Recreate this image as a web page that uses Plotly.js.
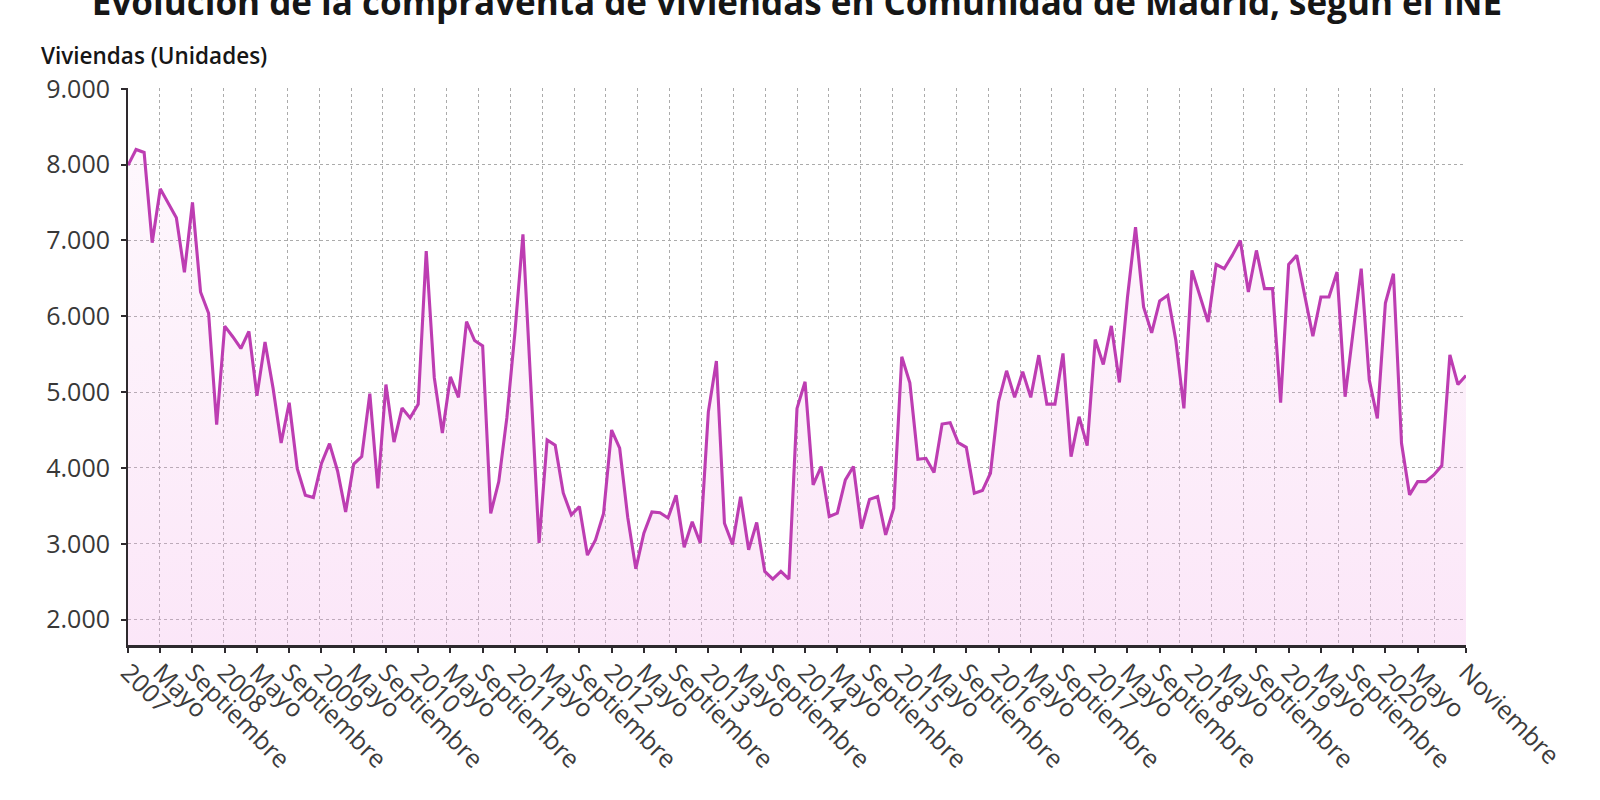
<!DOCTYPE html>
<html>
<head>
<meta charset="utf-8">
<script src="https://cdn.plot.ly/plotly-3.0.1.min.js"></script>
<style>
html,body{margin:0;padding:0;background:#ffffff;}
#chart{width:1600px;height:800px;}
</style>
</head>
<body>
<div id="chart"></div>
<script>
// ---- Data (compraventa de viviendas, Comunidad de Madrid, INE) ----
const years = [2007,2008,2009,2010,2011,2012,2013,2014,2015,2016,2017,2018,2019,2020];
const monthNames = ['Enero','Febrero','Marzo','Abril','Mayo','Junio','Julio','Agosto','Septiembre','Octubre','Noviembre','Diciembre'];

const v2007 = [7990,8200,8160,6970,7680,7490,7300,6580,7500,6320,6040,4570];
const v2008 = [5870,5730,5575,5800,4950,5660,5050,4330,4860,3990,3640,3610];
const v2009 = [4060,4320,3960,3420,4050,4150,4980,3730,5100,4340,4790,4660];
const v2010 = [4840,6860,5190,4460,5200,4930,5930,5680,5610,3400,3820,4660];
const v2011 = [5780,7080,5050,3010,4370,4300,3670,3380,3490,2850,3050,3400];
const v2012 = [4500,4260,3350,2670,3140,3420,3410,3340,3640,2955,3290,3010];
const v2013 = [4740,5410,3270,2990,3620,2920,3280,2636,2535,2636,2535,4785];
const v2014 = [5136,3776,4018,3360,3404,3842,4018,3200,3585,3623,3118,3469];
const v2015 = [5465,5123,4114,4127,3939,4579,4596,4333,4272,3667,3702,3930];
const v2016 = [4873,5281,4930,5268,4930,5487,4842,4842,5509,4149,4675,4294];
const v2017 = [5693,5364,5873,5127,6250,7175,6123,5781,6202,6276,5684,4785];
const v2018 = [6605,6254,5925,6684,6627,6803,7000,6320,6868,6364,6364,4860];
const v2019 = [6684,6803,6276,5737,6254,6254,6583,4939,5800,6627,5158,4654];
const v2020 = [6175,6561,4325,3645,3820,3820,3908,4031,5490,5100,5220];

const yearValues = [v2007,v2008,v2009,v2010,v2011,v2012,v2013,v2014,v2015,v2016,v2017,v2018,v2019,v2020];

const yTickVals = [2000,3000,4000,5000,6000,7000,8000,9000];
const yTickText = ['2.000','3.000','4.000','5.000','6.000','7.000','8.000','9.000'];

// ---- Build categories ----
const categories = [];
const values = [];
years.forEach((yr, i) => {
  yearValues[i].forEach((v, m) => {
    categories.push(monthNames[m] + ' ' + yr);
    values.push(v);
  });
});

// x tick labels: year at January, "Mayo", "Septiembre", last month name at the end
const xTickVals = [];
const xTickText = [];
const lastIdx = categories.length - 1;
categories.forEach((c, i) => {
  if (i % 4 === 0 && lastIdx - i > 2) {
    const parts = c.split(' ');
    xTickVals.push(c);
    xTickText.push(parts[0] === 'Enero' ? parts[1] : parts[0]);
  }
});
xTickVals.push(categories[lastIdx]);
xTickText.push(categories[lastIdx].split(' ')[0]);

const FONT = 'Open Sans, Noto Sans, sans-serif';
const LINE = '#bd3db2';

const traces = [
  {
    type: 'scatter',
    mode: 'lines',
    x: categories,
    y: values,
    line: {color: LINE, width: 3.1},
    fill: 'tozeroy',
    fillcolor: 'rgba(240,160,228,0.18)',
    fillgradient: {
      type: 'vertical',
      start: 1665,
      stop: 8300,
      colorscale: [[0, 'rgba(242,168,230,0.28)'], [1, 'rgba(242,168,230,0.08)']]
    },
    hoverinfo: 'x+y',
    showlegend: false
  },
  {
    // empty trace so the grid axis (x2) is created
    type: 'scatter', mode: 'none', x: [], y: [], xaxis: 'x2', yaxis: 'y',
    showlegend: false, hoverinfo: 'skip'
  }
];

const layout = {
  width: 1600,
  height: 800,
  paper_bgcolor: '#ffffff',
  plot_bgcolor: '#ffffff',
  margin: {l: 128, r: 134, t: 88, b: 155},
  font: {family: FONT, color: '#3a3a3a'},
  title: {
    text: '<b>Evolución de la compraventa de viviendas en Comunidad de Madrid, según el INE</b>',
    font: {family: FONT, size: 35, color: '#161616'},
    x: 0.5, xanchor: 'center', xref: 'paper',
    y: 0.996, yanchor: 'middle', yref: 'container'
  },
  xaxis: {
    type: 'category',
    range: [0, lastIdx],
    tickmode: 'array',
    tickvals: xTickVals,
    ticktext: xTickText,
    tickangle: 45,
    tickfont: {family: FONT, size: 25, color: '#3c3c3c'},
    ticklabelstandoff: -5,
    showgrid: false,
    showline: true,
    linecolor: '#2e2a2e',
    linewidth: 3,
    ticks: 'outside',
    ticklen: 5,
    tickwidth: 2,
    tickcolor: '#2e2a2e',
    zeroline: false,
    fixedrange: true
  },
  xaxis2: {
    overlaying: 'x',
    anchor: 'y',
    side: 'bottom',
    range: [0, 42],
    dtick: 1,
    tick0: 0,
    showgrid: true,
    gridcolor: '#ababab',
    griddash: '3px,3px',
    gridwidth: 1,
    showticklabels: false,
    ticks: '',
    showline: false,
    zeroline: false,
    fixedrange: true
  },
  yaxis: {
    range: [1665, 9010],
    tickmode: 'array',
    tickvals: yTickVals,
    ticktext: yTickText,
    tickfont: {family: FONT, size: 25, color: '#383838'},
    showgrid: true,
    gridcolor: '#ababab',
    griddash: '3px,3px',
    gridwidth: 1,
    showline: true,
    linecolor: '#2e2a2e',
    linewidth: 2,
    ticks: 'outside',
    ticklen: 5,
    tickwidth: 2,
    tickcolor: '#2e2a2e',
    ticklabelstandoff: 6,
    zeroline: false,
    fixedrange: true
  },
  annotations: [
    {
      text: 'Viviendas (Unidades)',
      xref: 'paper', yref: 'paper',
      x: -0.0665, y: 1.0575,
      xanchor: 'left', yanchor: 'middle',
      showarrow: false,
      font: {family: FONT, size: 22.5, color: '#161616', weight: 600}
    }
  ],
  showlegend: false
};

Plotly.newPlot('chart', traces, layout, {displayModeBar: false, staticPlot: false});
</script>
</body>
</html>
